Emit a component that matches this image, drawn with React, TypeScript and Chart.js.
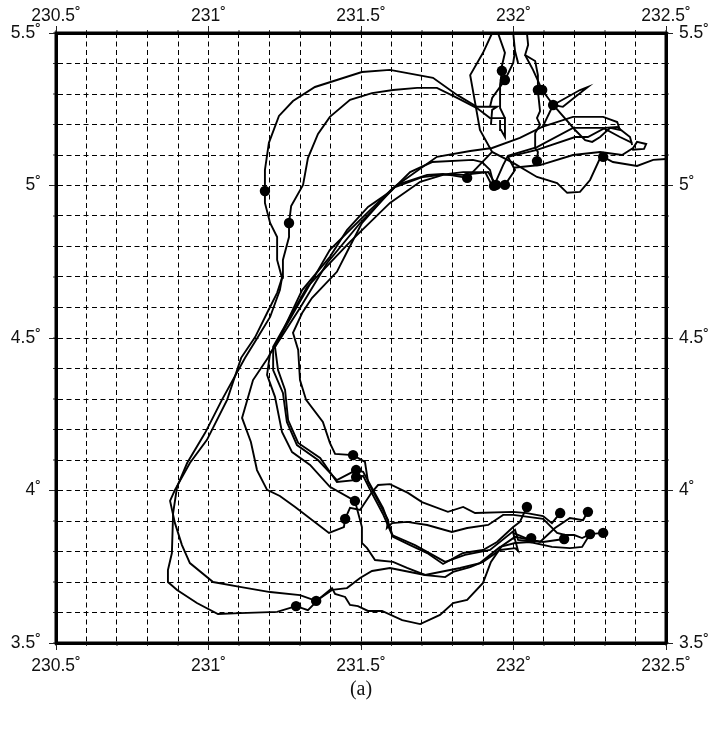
import React, { useEffect, useRef } from "react";
import { Chart, registerables } from "chart.js";

Chart.register(...registerables);

type P = [number, number];

const trackOuter: P[] = [[231.287,3.621],[231.225,3.602],[231.103,3.598],[231.031,3.595],[230.962,3.631],[230.897,3.674],[230.867,3.7],[230.867,3.739],[230.88,3.795],[230.884,3.926],[230.897,4.012],[230.93,4.09],[230.989,4.189],[231.044,4.297],[231.12,4.435],[231.162,4.503],[231.202,4.569],[231.234,4.657],[231.241,4.697],[231.225,4.756],[231.225,4.831],[231.202,4.877],[231.185,4.943],[231.185,4.982],[231.185,5.051],[231.198,5.14],[231.231,5.228],[231.277,5.277],[231.349,5.323],[231.503,5.372],[231.595,5.379],[231.736,5.353],[231.815,5.297],[231.88,5.258],[231.946,5.258],[231.93,5.248],[231.926,5.199]];
const trackInner: P[] = [[231.353,3.638],[231.3,3.657],[231.202,3.667],[231.103,3.684],[231.015,3.7],[230.939,3.762],[230.913,3.821],[230.89,3.893],[230.874,3.966],[230.89,4.002],[230.939,4.09],[230.995,4.166],[231.061,4.297],[231.107,4.435],[231.153,4.503],[231.192,4.582],[231.225,4.648],[231.241,4.697],[231.244,4.756],[231.264,4.831],[231.264,4.877],[231.271,4.933],[231.31,5.002],[231.326,5.09],[231.359,5.169],[231.398,5.225],[231.464,5.281],[231.536,5.303],[231.605,5.313],[231.684,5.32],[231.749,5.32],[231.815,5.287],[231.88,5.254],[231.923,5.221],[231.972,5.221],[231.972,5.159],[231.959,5.182],[231.956,5.215]];
const trackArcA: P[] = [[231.93,4.999],[231.907,5.044],[231.835,5.044],[231.703,5.028],[231.605,4.992],[231.503,4.877],[231.454,4.782],[231.421,4.717],[231.339,4.631],[231.307,4.582],[231.277,4.517],[231.294,4.461],[231.3,4.362],[231.32,4.297],[231.375,4.225],[231.398,4.156],[231.415,4.12],[231.474,4.116],[231.513,4.094],[231.523,4.028],[231.546,3.985],[231.589,3.903],[231.585,3.877],[231.602,3.893],[231.651,3.897],[231.717,3.887],[231.798,3.864],[231.848,3.877],[231.917,3.887],[231.966,3.92],[231.999,3.92],[232.097,3.907],[232.143,3.861],[232.169,3.854],[232.199,3.854],[232.225,3.844],[232.251,3.857]];
const trackArcB: P[] = [[231.936,4.999],[231.923,5.051],[231.897,5.077],[231.867,5.084],[231.733,5.077],[231.661,5.044],[231.595,4.979],[231.523,4.93],[231.454,4.854],[231.398,4.766],[231.307,4.657],[231.234,4.503],[231.218,4.471],[231.228,4.395],[231.251,4.33],[231.261,4.231],[231.294,4.156],[231.366,4.107],[231.421,4.028],[231.48,4.034],[231.507,4.048],[231.53,4.002],[231.572,3.923],[231.602,3.854],[231.677,3.821],[231.776,3.766],[231.841,3.789],[231.923,3.805],[232.005,3.871],[232.015,3.838],[232.071,3.831]];
const trackArcC: P[] = [[231.943,5.002],[231.917,5.044],[231.835,5.035],[231.769,5.035],[231.694,5.012],[231.595,4.943],[231.464,4.815],[231.323,4.667],[231.212,4.471],[231.212,4.395],[231.244,4.32],[231.257,4.225],[231.29,4.149],[231.359,4.1],[231.421,4.034],[231.484,4.067],[231.507,4.061],[231.536,4.008],[231.572,3.943],[231.589,3.897],[231.605,3.848],[231.661,3.821],[231.717,3.795],[231.769,3.759],[231.835,3.795],[231.9,3.805],[231.946,3.831],[231.999,3.88],[232.021,3.897],[232.044,3.946]];
const trackArcD: P[] = [[231.848,5.025],[231.769,5.038],[231.717,5.035],[231.618,5.002],[231.497,4.877],[231.389,4.746],[231.3,4.598],[231.218,4.471],[231.202,4.451],[231.192,4.379],[231.218,4.307],[231.241,4.192],[231.274,4.126],[231.333,4.084],[231.398,4.012],[231.48,3.966],[231.503,3.88],[231.503,3.828],[231.52,3.811],[231.546,3.772],[231.605,3.766],[231.651,3.746],[231.71,3.723],[231.825,3.746],[231.89,3.762],[231.956,3.815],[232.005,3.828],[232.054,3.831],[232.126,3.815],[232.185,3.811],[232.225,3.815],[232.251,3.857],[232.294,3.861]];
const trackArcE: P[] = [[232.13,5.264],[232.202,5.182],[232.235,5.149],[232.258,5.143],[232.284,5.159],[232.317,5.189],[232.349,5.182],[232.34,5.208],[232.294,5.225],[232.195,5.225],[232.094,5.192],[232.021,5.156],[231.93,5.123],[231.858,5.113],[231.749,5.094],[231.605,4.992],[231.507,4.897],[231.398,4.789],[231.29,4.602],[231.195,4.435],[231.146,4.362],[231.11,4.238],[231.139,4.159],[231.159,4.067],[231.192,4.002],[231.234,3.982],[231.284,3.946],[231.395,3.861],[231.444,3.88],[231.448,3.907],[231.464,3.943],[231.497,3.936],[231.536,3.995],[231.556,4.018],[231.595,4.021],[231.654,3.992],[231.7,3.962],[231.785,3.93],[231.835,3.946],[231.874,3.926],[231.999,3.93],[232.044,3.926],[232.097,3.916],[232.126,3.893],[232.153,3.926]];
const trackLowA: P[] = [[231.353,3.638],[231.405,3.674],[231.454,3.68],[231.497,3.713],[231.536,3.736],[231.595,3.746],[231.71,3.723],[231.776,3.716],[231.802,3.733],[231.858,3.749],[231.9,3.766],[231.956,3.805],[232.005,3.811],[232.015,3.802],[231.999,3.861],[232.054,3.838],[232.087,3.831],[232.136,3.877],[232.185,3.91],[232.228,3.903],[232.244,3.93]];
const trackLowB: P[] = [[231.287,3.621],[231.326,3.608],[231.366,3.648],[231.405,3.68],[231.415,3.661],[231.448,3.651],[231.464,3.625],[231.49,3.621],[231.523,3.605],[231.569,3.605],[231.635,3.575],[231.694,3.562],[231.759,3.592],[231.802,3.631],[231.848,3.641],[231.9,3.697],[231.926,3.766],[231.962,3.818],[232.005,3.848],[232.054,3.838],[232.097,3.831],[232.166,3.841]];
const trackEast: P[] = [[231.93,5.5],[231.9,5.435],[231.858,5.362],[231.89,5.182],[231.93,5.11],[231.999,5.074],[232.077,5.028],[232.143,5.008],[232.176,4.976],[232.218,4.979],[232.251,5.018],[232.284,5.09],[232.294,5.094],[232.326,5.077],[232.405,5.064],[232.458,5.084],[232.5,5.087]];
const trackLink: P[] = [[231.848,5.025],[231.93,5.11]];
const trackLoopA: P[] = [[231.936,4.999],[231.966,5.067],[231.982,5.097],[232.077,5.126],[232.195,5.189],[232.294,5.189],[232.349,5.159],[232.389,5.14]];
const trackLoopB: P[] = [[231.972,5.002],[232.005,5.051],[231.982,5.094],[232.077,5.117],[232.202,5.159],[232.244,5.159],[232.3,5.189],[232.34,5.192],[232.382,5.159],[232.389,5.133]];
const trackLoopC: P[] = [[231.999,5.058],[232.087,5.067],[232.195,5.1],[232.284,5.11],[232.356,5.1],[232.392,5.123],[232.405,5.143],[232.435,5.136],[232.428,5.12],[232.389,5.117]];
const trackNorthA: P[] = [[232.077,5.08],[232.08,5.11],[232.071,5.123],[232.071,5.172],[232.087,5.199],[232.077,5.221],[232.087,5.244],[232.08,5.31],[232.08,5.362],[232.071,5.408],[232.038,5.428],[232.048,5.461],[232.044,5.5]];
const trackNorthB: P[] = [[232.13,5.264],[232.094,5.313],[232.064,5.379],[232.038,5.428]];
const trackNorthC: P[] = [[232.13,5.264],[232.094,5.189]];
const trackSpit: P[] = [[232.13,5.264],[232.218,5.313],[232.244,5.323],[232.202,5.29],[232.162,5.258],[232.13,5.264]];
const trackTopA: P[] = [[231.949,5.5],[231.972,5.435],[231.962,5.392],[231.962,5.376],[231.956,5.33],[231.956,5.254],[231.972,5.221]];
const trackTopB: P[] = [[231.999,5.5],[232.005,5.441],[231.999,5.402],[231.972,5.346],[231.93,5.287],[231.923,5.258]];
const trackTopSpur: P[] = [[232.005,5.441],[232.015,5.402]];

const allTracks: P[][] = [trackOuter, trackInner, trackArcA, trackArcB, trackArcC, trackArcD, trackArcE, trackLowA, trackLowB, trackEast, trackLink, trackLoopA, trackLoopB, trackLoopC, trackNorthA, trackNorthB, trackNorthC, trackSpit, trackTopA, trackTopB, trackTopSpur];

const markers: P[] = [[231.185,4.982],[231.264,4.877],[231.848,5.025],[231.936,4.999],[231.943,5.002],[231.972,5.002],[232.077,5.08],[232.294,5.094],[232.13,5.264],[232.08,5.313],[232.094,5.313],[231.962,5.376],[231.972,5.346],[231.474,4.116],[231.484,4.067],[231.484,4.044],[231.48,3.966],[231.448,3.907],[232.044,3.946],[232.153,3.926],[232.244,3.93],[232.058,3.844],[232.166,3.841],[232.251,3.857],[232.294,3.861],[231.287,3.621],[231.353,3.638]];

const lonRange = [230.5, 232.5];
const latRange = [3.5, 5.5];
const gridStep = 0.1;
const caption = "(a)";

const isMajor = (v: number) => Math.abs(v * 2 - Math.round(v * 2)) < 1e-6;
const tickText = (v: number | string) => (isMajor(Number(v)) ? `${parseFloat(Number(v).toFixed(1))}\u02DA` : "");

const labelFont = { family: "'Liberation Sans', Arial, sans-serif", size: 17.5 };

function axis(position: string, range: number[], size: number, grid: boolean, padding: number, extra: any = {}) {
  return {
    type: "linear",
    position,
    min: range[0],
    max: range[1],
    afterFit(s: any) {
      if (position === "left" || position === "right") s.width = size;
      else s.height = size;
    },
    ticks: {
      stepSize: gridStep,
      autoSkip: false,
      maxRotation: 0,
      color: "#111",
      font: labelFont,
      padding,
      callback: (v: number | string) => tickText(v),
    },
    grid: {
      display: true,
      drawOnChartArea: grid,
      color: "#000",
      lineWidth: 1,
      tickLength: 7,
      tickColor: (c: any) => (isMajor(c.tick.value) ? "#222" : "rgba(0,0,0,0)"),
      tickWidth: 1,
    },
    border: { display: true, color: "#000", width: 3, dash: grid ? [5, 3.5] : undefined },
    ...extra,
  };
}

const minorTicks = {
  id: "minorTicks",
  afterDraw(chart: any) {
    const { ctx, chartArea: a, scales } = chart;
    ctx.save();
    ctx.strokeStyle = "#333";
    ctx.lineWidth = 1;
    ctx.beginPath();
    for (const t of scales.x.ticks) {
      const p = scales.x.getPixelForValue(t.value);
      ctx.moveTo(p, a.top - 3);
      ctx.lineTo(p, a.top);
      ctx.moveTo(p, a.bottom);
      ctx.lineTo(p, a.bottom + 3);
    }
    for (const t of scales.y.ticks) {
      const p = scales.y.getPixelForValue(t.value);
      ctx.moveTo(a.left - 3, p);
      ctx.lineTo(a.left, p);
      ctx.moveTo(a.right, p);
      ctx.lineTo(a.right + 3, p);
    }
    ctx.stroke();
    ctx.setLineDash([]);
    ctx.lineWidth = 3;
    ctx.strokeStyle = "#000";
    ctx.strokeRect(a.left, a.top, a.right - a.left, a.bottom - a.top);
    ctx.restore();
  },
};

export default function App() {
  const ref = useRef<HTMLCanvasElement>(null);
  useEffect(() => {
    if (!ref.current) return;
    const chart = new Chart(ref.current, {
      type: "scatter",
      data: {
        datasets: [
          ...allTracks.map((t) => ({
            data: t.map(([x, y]) => ({ x, y })),
            showLine: true,
            borderColor: "#000",
            borderWidth: 1.9,
            pointRadius: 0,
            tension: 0,
            fill: false,
          })),
          {
            data: markers.map(([x, y]) => ({ x, y })),
            showLine: false,
            pointRadius: 5.2,
            pointBackgroundColor: "#000",
            pointBorderColor: "#000",
            pointBorderWidth: 0,
          },
        ],
      },
      options: {
        animation: false,
        responsive: false,
        devicePixelRatio: 1,
        layout: { padding: 0 },
        plugins: { legend: { display: false }, tooltip: { enabled: false }, title: { display: false } },
        scales: {
          x: axis("bottom", lonRange, 87, true, 6, {
            title: { display: true, text: caption, color: "#111", font: { family: "'Liberation Serif', serif", size: 20 }, padding: { top: 0, bottom: 28 } },
          }),
          x2: axis("top", lonRange, 33, false, -1),
          y: axis("left", latRange, 56, true, 8),
          y2: axis("right", latRange, 45, false, 6),
        },
      } as any,
      plugins: [minorTicks],
    });
    return () => chart.destroy();
  }, []);
  return (
    <div style={{ position: "absolute", left: 0, top: 0, width: 711, height: 730, background: "#fff" }}>
      <canvas ref={ref} width={711} height={730} style={{ display: "block" }} />
    </div>
  );
}
